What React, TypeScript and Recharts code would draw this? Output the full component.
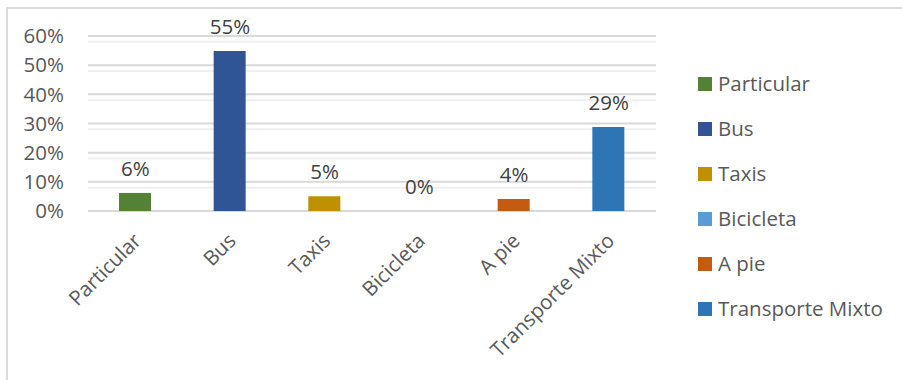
import { ComposedChart, Bar, Line, Cell, XAxis, YAxis, CartesianGrid, LabelList } from "recharts";

const categories = ["Particular", "Bus", "Taxis", "Bicicleta", "A pie", "Transporte Mixto"];
const shares = [0.062, 0.549, 0.051, 0, 0.041, 0.288];
const barColors = ["#548235", "#2f5597", "#bf9000", "#5b9bd5", "#c55a11", "#2e75b6"];
const yTicks = [0, 0.1, 0.2, 0.3, 0.4, 0.5, 0.6];
const minorTicks = [
  0.02, 0.04, 0.06, 0.08, 0.12, 0.14, 0.16, 0.18, 0.22, 0.24, 0.26, 0.28,
  0.32, 0.34, 0.36, 0.38, 0.42, 0.44, 0.46, 0.48, 0.52, 0.54, 0.56, 0.58,
];

const data = categories.map((name, i) => ({ name, value: shares[i] }));

const FONT = "'Open Sans', sans-serif";
const FS = 20.5;
const pct = (v: number) => `${Math.round(v * 100)}%`;

function AngledTick(props: any) {
  const { x, y, payload } = props;
  const px = x + 2;
  const py = y + 18;
  return (
    <text
      x={px}
      y={py}
      dy="0.35em"
      textAnchor="end"
      transform={`rotate(-45, ${px}, ${py})`}
      fill="#595959"
      fontSize={FS}
      fontFamily={FONT}
    >
      {payload.value}
    </text>
  );
}

export default function App() {
  return (
    <div style={{ position: "fixed", left: 0, top: 0, width: 902, height: 380, overflow: "hidden", background: "#fff" }}>
      <div
        style={{
          position: "absolute",
          left: 6,
          top: 7,
          width: 1000,
          height: 500,
          borderLeft: "2px solid #d9d9d9",
          borderTop: "2px solid #d9d9d9",
        }}
      />
      <div style={{ position: "absolute", left: 0, top: 0 }}>
        <ComposedChart width={902} height={380} data={data} margin={{ top: 36, right: 246, bottom: 9, left: 0 }}>
          <CartesianGrid vertical={false} horizontalValues={minorTicks} stroke="#efefef" strokeWidth={2} />
          <CartesianGrid vertical={false} horizontalValues={yTicks} stroke="#d9d9d9" strokeWidth={2} />
          <XAxis
            dataKey="name"
            interval={0}
            height={160}
            axisLine={false}
            tickLine={false}
            tick={<AngledTick />}
          />
          <YAxis
            width={88}
            domain={[0, 0.6]}
            ticks={yTicks}
            tickFormatter={pct}
            axisLine={false}
            tickLine={false}
            tickSize={0}
            tickMargin={24}
            tick={{ fill: "#595959", fontSize: FS, fontFamily: FONT }}
          />
          <Bar dataKey="value" barSize={32} isAnimationActive={false}>
            {data.map((d, i) => (
              <Cell key={d.name} fill={barColors[i]} />
            ))}
          </Bar>
          <Line dataKey="value" stroke="none" dot={false} activeDot={false} isAnimationActive={false}>
            <LabelList
              dataKey="value"
              position="top"
              offset={17}
              formatter={(v: any) => pct(Number(v))}
              fill="#404040"
              fontSize={FS}
              fontFamily={FONT}
            />
          </Line>
        </ComposedChart>
      </div>
      <div style={{ position: "absolute", left: 698, top: 61 }}>
        {categories.map((name, i) => (
          <div key={name} style={{ display: "flex", alignItems: "center", height: 45 }}>
            <span style={{ width: 14, height: 14, background: barColors[i], marginRight: 6 }} />
            <span style={{ fontFamily: FONT, fontSize: FS, color: "#595959", lineHeight: "45px" }}>{name}</span>
          </div>
        ))}
      </div>
    </div>
  );
}
